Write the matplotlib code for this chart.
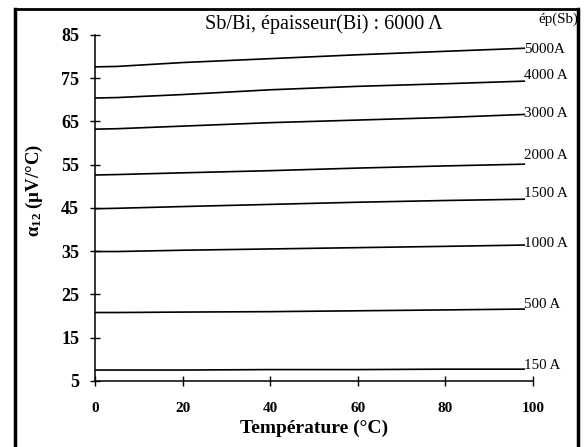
import numpy as np
from matplotlib import pyplot as plt
from matplotlib.lines import Line2D

# temperature (°C) and alpha_12 (µV/°C) for each Sb thickness
T = [0, 5, 20, 40, 60, 80, 98]
a5000 = [77.6, 77.7, 78.6, 79.5, 80.4, 81.2, 81.9]
a4000 = [70.4, 70.5, 71.2, 72.3, 73.1, 73.7, 74.3]
a3000 = [63.2, 63.3, 63.9, 64.7, 65.3, 65.9, 66.6]
a2000 = [52.6, 52.7, 53.1, 53.6, 54.2, 54.7, 55.1]
a1500 = [44.8, 44.9, 45.3, 45.8, 46.3, 46.7, 47.0]
a1000 = [34.9, 34.9, 35.2, 35.5, 35.8, 36.1, 36.4]
a500 = [20.8, 20.8, 20.9, 21.0, 21.2, 21.4, 21.6]
a150 = [7.5, 7.5, 7.5, 7.6, 7.6, 7.7, 7.7]

series = [a5000, a4000, a3000, a2000, a1500, a1000, a500, a150]
labels = ['5000A', '4000 A', '3000 A', '2000 A', '1500 A', '1000 A', '500 A', '150 A']
label_dy = [-1, 4, 1, 6, 4, 1, 3, 3]   # points, label nudge vs line end

plt.rcParams['font.family'] = 'Liberation Serif'
plt.rcParams['mathtext.fontset'] = 'custom'
plt.rcParams['mathtext.rm'] = 'Liberation Serif:bold'
plt.rcParams['mathtext.it'] = 'Liberation Serif:bold'
plt.rcParams['mathtext.bf'] = 'Liberation Serif:bold'

fig = plt.figure(figsize=(5.87, 4.47), dpi=100)
ax = fig.add_axes([0.162, 0.148, 0.746, 0.774])

for vals, lab, dy in zip(series, labels, label_dy):
    ax.plot(T, vals, color='black', lw=1.2)
    ax.annotate(lab, xy=(T[-1], vals[-1]), xytext=(0, dy),
                textcoords='offset points', va='center', ha='left',
                fontsize=10.8, annotation_clip=False)

ax.set_xlim(0, 100)
ax.set_ylim(5, 85)
ax.set_xticks(range(0, 101, 20))
ax.set_yticks(range(5, 86, 10))
ax.tick_params(direction='inout', length=7, width=1, pad=6)
ax.tick_params(axis='x', labelsize=11, pad=12)
ax.tick_params(axis='y', labelsize=13, pad=8)
for t in ax.get_xticklabels() + ax.get_yticklabels():
    t.set_fontweight('bold')
for s in ['top', 'right']:
    ax.spines[s].set_visible(False)
ax.spines['left'].set_linewidth(1.1)
ax.spines['bottom'].set_linewidth(1.1)

ax.set_xlabel('Température (°C)', fontsize=14, fontweight='bold', labelpad=3)
ax.set_ylabel(r'$\alpha_{12}$ (µV/°C)', fontsize=13.5, fontweight='bold')
ax.yaxis.set_label_coords(-0.115, 0.55)

fig.text(0.551, 0.947, 'Sb/Bi, épaisseur(Bi) : 6000 Λ', fontsize=14.5,
         ha='center', va='center')
fig.text(0.951, 0.958, 'ép(Sb)', fontsize=10.8, ha='center', va='center')

# scanned frame
fig.add_artist(Line2D([0.026, 0.026], [0.0, 0.98], color='black', lw=2.5))
fig.add_artist(Line2D([0.984, 0.984], [0.0, 0.98], color='black', lw=2.5))
fig.add_artist(Line2D([0.026, 0.984], [0.98, 0.98], color='black', lw=2))

plt.savefig('out.png', dpi=100)
